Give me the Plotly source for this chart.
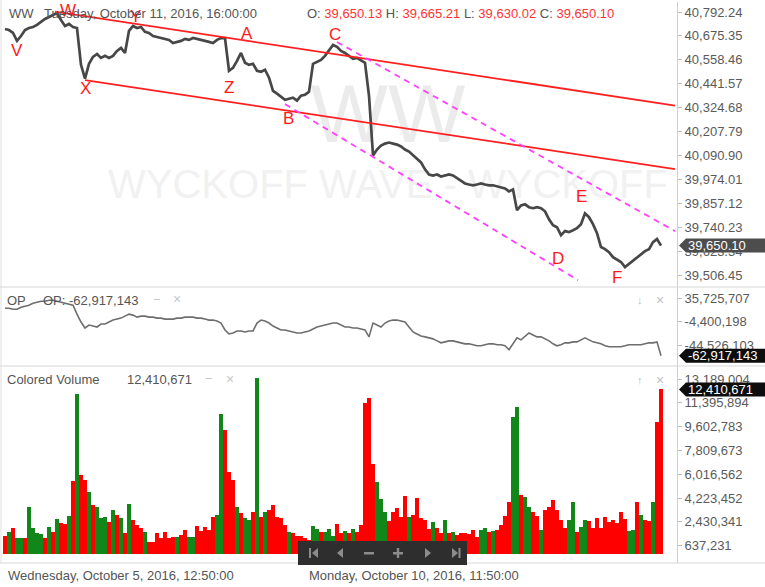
import plotly.graph_objects as go

W, H = 765, 587
FONT = "Liberation Sans, Arial, sans-serif"

# ---------------- data ----------------
price = [
    40709, 40704, 40690, 40651, 40675, 40704, 40714, 40719, 40729, 40744,
    40758, 40768, 40778, 40787, 40753, 40724, 40734, 40719, 40714, 40534,
    40466, 40539, 40573, 40587, 40568, 40578, 40568, 40578, 40602, 40617,
    40592, 40700, 40724, 40714, 40719, 40695, 40690, 40675, 40670, 40665,
    40661, 40656, 40641, 40646, 40651, 40661, 40656, 40665, 40661, 40656,
    40651, 40646, 40641, 40656, 40665, 40665, 40505, 40519, 40553, 40592,
    40544, 40534, 40539, 40505, 40500, 40510, 40471, 40407, 40393, 40378,
    40363, 40368, 40373, 40359, 40383, 40388, 40402, 40539, 40548, 40558,
    40578, 40602, 40631, 40622, 40602, 40592, 40578, 40563, 40568, 40558,
    40544, 40383, 40091, 40120, 40139, 40149, 40154, 40149, 40144, 40135,
    40120, 40110, 40091, 40076, 40057, 40023, 39998, 39993, 39998, 39988,
    39993, 39998, 39993, 39979, 39964, 39954, 39949, 39945, 39949, 39954,
    39949, 39945, 39945, 39940, 39935, 39930, 39915, 39925, 39823, 39847,
    39852, 39838, 39833, 39838, 39833, 39818, 39779, 39750, 39740, 39701,
    39721, 39716, 39725, 39735, 39755, 39808, 39789, 39755, 39711, 39643,
    39633, 39618, 39594, 39584, 39570, 39545, 39560, 39575, 39589, 39604,
    39623, 39633, 39667, 39682, 39650.10,
]

op_millions = [
    18.7, 18.7, 17.0, 17.0, 20.4, 22.1, 23.8, 27.2, 28.9, 30.6,
    30.6, 32.3, 32.3, 30.6, 28.9, 27.2, 25.5, 23.8, 8.5, -5.1,
    -15.3, -10.2, -11.9, -13.6, -8.5, -8.5, -5.1, -1.7, 0.0, 1.7,
    5.1, 8.5, 6.8, 3.4, 5.1, 5.1, 3.4, 3.4, 1.7, 1.7,
    0.0, 0.0, 0.0, 1.7, 1.7, 3.4, 3.4, 3.4, 1.7, 1.7,
    0.0, -1.7, -1.7, -3.4, -6.8, -18.7, -25.5, -23.8, -20.4, -20.4,
    -22.1, -20.4, -20.4, -6.8, -1.7, -3.4, -6.8, -11.9, -15.3, -18.7,
    -18.7, -20.4, -22.1, -23.8, -23.8, -22.1, -20.4, -17.0, -13.6, -11.9,
    -10.2, -8.5, -6.8, -6.8, -10.2, -13.6, -13.6, -15.3, -15.3, -17.0,
    -18.7, -30.6, -6.8, -10.2, -13.6, -6.8, -3.4, -1.7, -1.7, -3.4,
    -5.1, -13.6, -22.1, -25.5, -28.9, -30.6, -32.3, -34.0, -37.4, -40.8,
    -39.1, -37.4, -37.4, -39.1, -40.8, -42.5, -42.5, -44.2, -45.9, -45.9,
    -44.2, -42.5, -42.5, -44.2, -44.2, -45.9, -52.7, -42.5, -32.3, -35.7,
    -28.9, -23.8, -27.2, -30.6, -30.6, -34.0, -37.4, -42.5, -45.9, -44.2,
    -40.8, -40.8, -39.1, -39.1, -35.7, -32.3, -35.7, -39.1, -40.8, -42.5,
    -45.9, -47.6, -47.6, -47.6, -47.6, -45.9, -44.2, -44.2, -44.2, -44.2,
    -42.5, -40.8, -40.8, -39.1, -62.917143,
]

volume_millions = [
    1.36, 1.66, 1.96, 1.21, 1.21, 1.21, 3.54, 1.96, 1.58, 1.51,
    1.21, 2.03, 1.66, 2.64, 2.34, 2.26, 2.86, 5.50, 12.05, 5.95,
    5.57, 4.67, 3.69, 3.54, 2.71, 2.79, 2.41, 3.31, 2.94, 2.71,
    1.58, 3.77, 2.56, 2.18, 1.96, 1.66, 0.90, 0.90, 1.58, 1.21,
    1.66, 1.21, 1.28, 1.28, 1.43, 1.81, 1.28, 1.28, 2.11, 1.73,
    2.03, 1.81, 2.79, 2.94, 10.55, 9.34, 6.18, 5.57, 3.54, 3.09,
    2.71, 2.56, 3.16, 13.26, 2.79, 3.16, 3.31, 3.69, 2.79, 2.71,
    2.18, 1.66, 1.58, 1.36, 1.36, 1.21, 1.05, 2.11, 1.88, 1.66,
    1.66, 1.88, 1.36, 2.26, 1.58, 1.73, 1.58, 1.88, 1.66, 2.18,
    11.38, 11.75, 6.78, 5.42, 4.14, 3.16, 2.49, 3.16, 3.47, 2.79,
    4.37, 2.79, 2.94, 4.22, 2.71, 2.56, 1.88, 2.41, 1.96, 1.58,
    2.56, 1.58, 1.66, 1.43, 1.58, 1.58, 1.51, 1.81, 1.28, 1.81,
    1.96, 1.66, 1.73, 1.81, 2.18, 2.86, 3.92, 10.32, 11.07, 4.45,
    4.29, 3.54, 3.16, 2.86, 1.81, 3.31, 3.54, 4.07, 3.31, 2.56,
    1.96, 2.56, 3.92, 1.66, 2.03, 2.56, 2.49, 1.96, 2.71, 1.96,
    2.79, 2.41, 2.56, 2.34, 3.16, 2.64, 1.73, 1.81, 3.92, 2.94,
    2.56, 2.49, 3.92, 9.94, 12.410671,
]

# g = up bar (green), r = down bar (red)
volume_direction = (
    "rgrggrgggg" "rgrgrrgrgr" "rgrgggrgrg" "rgrrrgrrrr" "rrrgrrggrr"
    "rrrggrrrgr" "ggrgrgrrrr" "rgrrrrrggr" "gggrrgrgrr" "rrrgggrrrr"
    "rgrrrrrgrr" "grgrrrrrrg" "grgrrrrggr" "ggrrgrrrrr" "rggrggrrrr"
    "rrrrrrggrg" "rrgrr"
)

price_ticks = [40792.24, 40675.35, 40558.46, 40441.57, 40324.68, 40207.79,
               40090.90, 39974.01, 39857.12, 39740.23, 39623.34, 39506.45]
op_ticks = [35725707, -4400198, -44526103]
volume_ticks = [13189004, 11395894, 9602783, 7809673, 6016562, 4223452,
                2430341, 637231]

# drawn trend lines: (bar index pair, price pair)
red_channel = [([12.5, 167.5], [40793.7, 40334.9]),
               ([20.0, 167.5], [40459.6, 40024.3])]
magenta_channel = [([70.0, 143.25], [40342.2, 39481.4]),
                   ([83.0, 167.5], [40645.5, 39721.1])]

wave_labels = ["V", "W", "Y", "X", "A", "Z", "B", "C", "D", "E", "F"]
wave_x = [3.0, 15.75, 32.5, 20.0, 60.5, 56.0, 70.75, 82.5, 138.25, 144.0, 153.0]
wave_price = [40606, 40801, 40772, 40420, 40689, 40425, 40274, 40680,
              39589, 39892, 39496]

header_date = "Tuesday, October 11, 2016, 16:00:00"
ohlc = [("O", "39,650.13"), ("H", "39,665.21"), ("L", "39,630.02"), ("C", "39,650.10")]
date_labels = ["Wednesday, October 5, 2016, 12:50:00", "Monday, October 10, 2016, 11:50:00"]

# ---------------- layout geometry (pixels) ----------------
PL, PR = 3, 677
TOP, MID, BOT = (2, 287), (287, 366), (366, 563)
X_RANGE = [-0.5, 168.0]
P_RANGE = [39447.8, 40841.2]
OP_RANGE = [-80.6e6, 55.14e6]
V_RANGE = [-666168, 14176000]


def fx(p):
    return p / W


def fy(p):
    return 1 - p / H


def dom(a):
    return [fy(a[1]), fy(a[0])]


def data_x(px):
    return X_RANGE[0] + (px - PL) / (PR - PL) * (X_RANGE[1] - X_RANGE[0])


def data_price(py):
    return P_RANGE[1] - (py - TOP[0]) / (TOP[1] - TOP[0]) * (P_RANGE[1] - P_RANGE[0])


n = len(price)
bars = list(range(n))
op = [v * 1e6 for v in op_millions]
volume = [v * 1e6 for v in volume_millions]
vol_colors = ["#11871a" if c == "g" else "#ff0000" for c in volume_direction]

fig = go.Figure()

# watermark (behind data)
fig.add_trace(go.Scatter(x=[data_x(388)], y=[data_price(121)], mode="text", text=["WW"],
                         textfont=dict(family=FONT, size=82, color="#ebebeb"),
                         hoverinfo="skip", showlegend=False, yaxis="y"))
fig.add_trace(go.Scatter(x=[data_x(388)], y=[data_price(188)], mode="text",
                         text=["WYCKOFF WAVE - WYCKOFF"],
                         textfont=dict(family=FONT, size=40, color="#f1f1f1"),
                         hoverinfo="skip", showlegend=False, yaxis="y"))

fig.add_trace(go.Scatter(x=bars, y=price, mode="lines",
                         line=dict(color="#474747", width=2.7),
                         hoverinfo="skip", showlegend=False, yaxis="y"))
for xs, ys in red_channel:
    fig.add_trace(go.Scatter(x=xs, y=ys, mode="lines", line=dict(color="#ff1f1f", width=1.8),
                             hoverinfo="skip", showlegend=False, yaxis="y"))
for xs, ys in magenta_channel:
    fig.add_trace(go.Scatter(x=xs, y=ys, mode="lines",
                             line=dict(color="#ff40ff", width=1.8, dash="6px,5px"),
                             hoverinfo="skip", showlegend=False, yaxis="y"))

fig.add_trace(go.Scatter(x=bars, y=op, mode="lines", line=dict(color="#6e6e6e", width=1.6),
                         hoverinfo="skip", showlegend=False, yaxis="y2"))
fig.add_trace(go.Bar(x=bars, y=volume, width=1.0, marker=dict(color=vol_colors, line=dict(width=0)),
                     hoverinfo="skip", showlegend=False, yaxis="y3"))


def yax(domain, rng, ticks, texts):
    return dict(domain=domain, range=rng, side="right", anchor="x", tickvals=ticks,
                ticktext=texts, showgrid=False, zeroline=False, showline=True,
                linecolor="#cfcfcf", linewidth=1, ticks="outside", ticklen=4,
                tickcolor="#bdbdbd", tickfont=dict(family=FONT, size=13, color="#5a5a5a"),
                fixedrange=True)


annotations = []
shapes = []

# wave labels
for lab, xv, pv in zip(wave_labels, wave_x, wave_price):
    annotations.append(dict(x=xv, y=pv, xref="x", yref="y", text=lab, showarrow=False,
                            font=dict(family=FONT, size=17, color="#ff1a1a")))


def txt(x, y, s, color="#555555", size=13, anchor="left"):
    annotations.append(dict(x=fx(x), y=fy(y), xref="paper", yref="paper", text=s,
                            showarrow=False, xanchor=anchor, yanchor="middle",
                            font=dict(family=FONT, size=size, color=color)))


# header
txt(7, 13, "WW")
txt(42, 13, header_date)
red = "#ff3333"
hdr = " ".join(f"{k}: <span style='color:{red}'>{v}</span>" for k, v in ohlc)
txt(305, 13, hdr)

# pane titles
txt(5, 300, "OP")
txt(41, 300, f"OP: {op_millions[-1] * 1e6:,.0f}")
txt(151, 299, "−", color="#c8c8c8")
txt(171, 299, "×", color="#c8c8c8", size=14)
txt(5, 380, "Colored Volume")
txt(125, 380, f"{volume_millions[-1] * 1e6:,.0f}")
txt(203, 379, "−", color="#c8c8c8")
txt(224, 379, "×", color="#c8c8c8", size=14)
txt(640, 300, "↓", color="#b8b8b8", size=11, anchor="center")
txt(660, 300, "×", color="#c0c0c0", size=14, anchor="center")
txt(640, 380, "↑", color="#b8b8b8", size=11, anchor="center")
txt(660, 380, "×", color="#c0c0c0", size=14, anchor="center")

# bottom date labels
txt(6, 575, date_labels[0])
txt(307, 575, date_labels[1])

# last value flags
for yref, val, label, bg in [("y", price[-1], f"{price[-1]:,.2f}", "#4d4d4d"),
                             ("y2", op[-1], f"{op[-1]:,.0f}", "#0d0d0d"),
                             ("y3", volume[-1], f"{volume[-1]:,.0f}", "#0d0d0d")]:
    shapes.append(dict(type="path", xref="paper", yref=yref, xsizemode="pixel",
                       ysizemode="pixel", xanchor=fx(679), yanchor=val,
                       path="M0,0 L7,7 L90,7 L90,-7 L7,-7 Z",
                       fillcolor=bg, line=dict(width=0), layer="above"))
    annotations.append(dict(x=fx(686), y=val, xref="paper", yref=yref, text=label,
                            showarrow=False, xanchor="left", yanchor="middle",
                            font=dict(family=FONT, size=13, color="#ffffff")))

# pane separators and borders
for yy in (TOP[1], MID[1], BOT[1]):
    shapes.append(dict(type="line", xref="paper", yref="paper", x0=0, x1=1,
                       y0=fy(yy), y1=fy(yy), line=dict(color="#d6d6d6", width=1)))
shapes.append(dict(type="line", xref="paper", yref="paper", x0=fx(1), x1=fx(1),
                   y0=fy(BOT[1]), y1=1, line=dict(color="#e0e0e0", width=1)))

# navigation toolbar
shapes.append(dict(type="rect", xref="paper", yref="paper", x0=fx(298), x1=fx(467),
                   y0=fy(565), y1=fy(541), fillcolor="#2e2e2e", line=dict(width=0),
                   layer="above"))
glyph = "#8c8c8c"


def poly(points):
    d = "M " + " L ".join(f"{fx(a):.5f},{fy(b):.5f}" for a, b in points) + " Z"
    shapes.append(dict(type="path", xref="paper", yref="paper", path=d,
                       fillcolor=glyph, line=dict(width=0), layer="above"))


poly([(309, 548), (311, 548), (311, 558), (309, 558)])
poly([(312, 553), (318, 548), (318, 558)])
poly([(337, 553), (343, 548), (343, 558)])
poly([(364, 552), (374, 552), (374, 554.5), (364, 554.5)])
poly([(393, 552), (403, 552), (403, 554.5), (393, 554.5)])
poly([(396.8, 548), (399.2, 548), (399.2, 558), (396.8, 558)])
poly([(431, 553), (425, 548), (425, 558)])
poly([(458, 553), (452, 548), (452, 558)])
poly([(458.5, 548), (460.5, 548), (460.5, 558), (458.5, 558)])

fig.update_layout(
    width=W, height=H, margin=dict(l=0, r=0, t=0, b=0),
    paper_bgcolor="white", plot_bgcolor="white", bargap=0,
    showlegend=False,
    xaxis=dict(domain=[fx(PL), fx(PR)], range=X_RANGE, visible=False, anchor="y3",
               fixedrange=True),
    yaxis=yax(dom(TOP), P_RANGE, price_ticks, [f"{v:,.2f}" for v in price_ticks]),
    yaxis2=yax(dom(MID), OP_RANGE, op_ticks, [f"{v:,}" for v in op_ticks]),
    yaxis3=yax(dom(BOT), V_RANGE, volume_ticks, [f"{v:,}" for v in volume_ticks]),
    annotations=annotations, shapes=shapes,
    font=dict(family=FONT),
)

fig.write_html("out.html", config={"displayModeBar": False},
               post_script="document.body.style.margin='0';document.body.style.overflow='hidden';")
